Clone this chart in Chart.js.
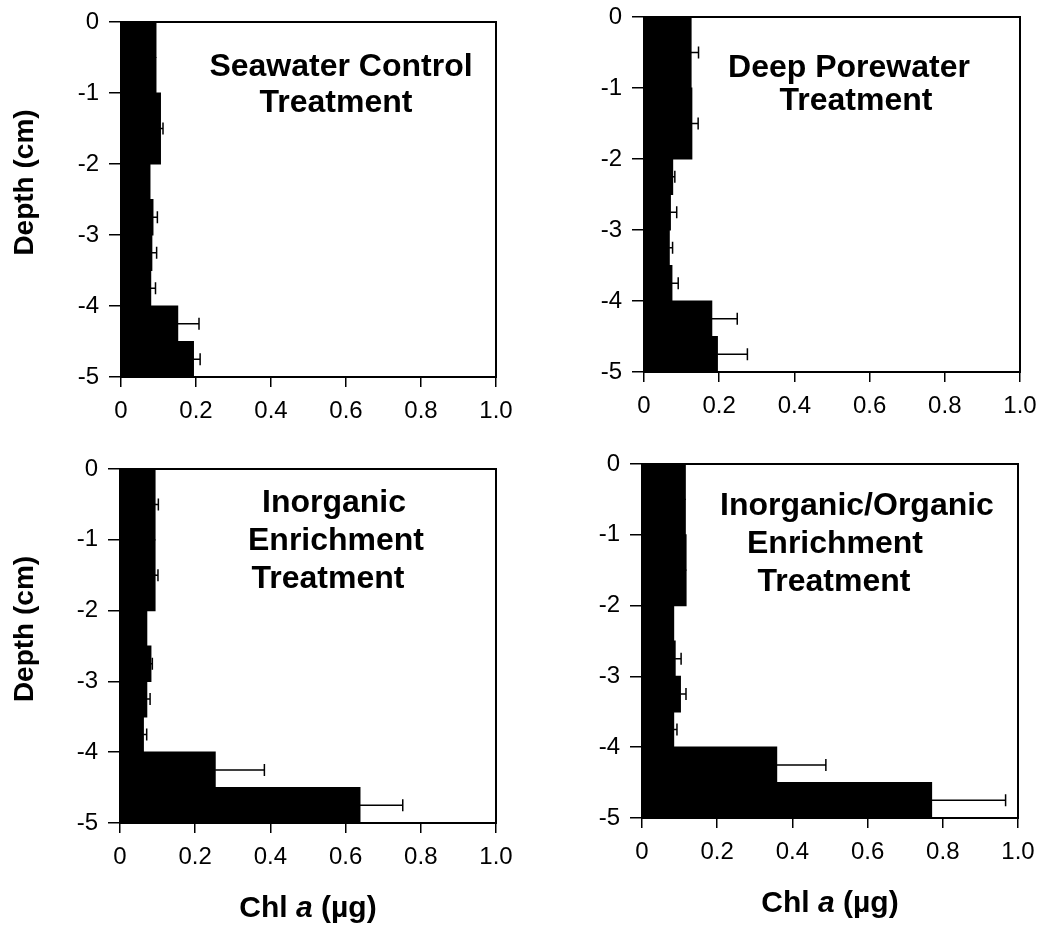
<!DOCTYPE html>
<html>
<head>
<meta charset="utf-8">
<script src="https://cdn.jsdelivr.net/npm/chart.js@4.4.1/dist/chart.umd.min.js"></script>
<style>
  body { margin: 0; background: #fff; overflow: hidden; }
  #wrap { position: relative; width: 1038px; height: 927px; }
  canvas { position: absolute; }
</style>
</head>
<body>
<div id="wrap">
  <canvas id="p1" width="520" height="430" style="left:0;top:0"></canvas>
  <canvas id="p2" width="518" height="430" style="left:520px;top:0"></canvas>
  <canvas id="p3" width="520" height="497" style="left:0;top:430px"></canvas>
  <canvas id="p4" width="518" height="497" style="left:520px;top:430px"></canvas>
</div>
<script>
// sediment layers (cm), top and bottom of each bar
const layerTop    = [0, -1, -2, -2.5, -3, -3.5, -4, -4.5];
const layerBottom = [-1, -2, -2.5, -3, -3.5, -4, -4.5, -5];
const depthTicks = [0, -1, -2, -3, -4, -5];
const chlTicks = ['0', '0.2', '0.4', '0.6', '0.8', '1.0'];

// Chl a (ug) per layer, and the error bar length
const seawaterChl = [0.093, 0.105, 0.077, 0.085, 0.082, 0.079, 0.151, 0.193];
const seawaterErr = [0, 0.007, 0, 0.012, 0.013, 0.013, 0.057, 0.018];
const porewaterChl = [0.125, 0.127, 0.076, 0.070, 0.067, 0.074, 0.180, 0.195];
const porewaterErr = [0.020, 0.017, 0.006, 0.017, 0.009, 0.017, 0.068, 0.080];
const inorganicChl = [0.093, 0.093, 0.071, 0.082, 0.071, 0.062, 0.253, 0.638];
const inorganicErr = [0.009, 0.008, 0, 0.004, 0.009, 0.009, 0.131, 0.114];
const inorgOrgChl = [0.115, 0.117, 0.084, 0.088, 0.102, 0.084, 0.358, 0.770];
const inorgOrgErr = [0, 0, 0, 0.016, 0.015, 0.009, 0.131, 0.197];

const FONT = '"Liberation Sans", Arial, Helvetica, sans-serif';
Chart.defaults.font.family = FONT;
Chart.defaults.color = '#000';

// page layout of each panel (plot area in page px)
const panels = [
  { id: 'p1', chl: seawaterChl, err: seawaterErr, left: 0, top: 0, w: 520, h: 430,
    plot: [121, 22, 496, 377], yTitle: true, xTitle: false,
    lines: [['Seawater Control', 220, 45.5], ['Treatment', 215, 81.5]] },
  { id: 'p2', chl: porewaterChl, err: porewaterErr, left: 520, top: 0, w: 518, h: 430,
    plot: [644, 17, 1020, 372], yTitle: false, xTitle: false,
    lines: [['Deep Porewater', 205, 51], ['Treatment', 212, 84]] },
  { id: 'p3', chl: inorganicChl, err: inorganicErr, left: 0, top: 430, w: 520, h: 497,
    plot: [120, 469, 496, 823], yTitle: true, xTitle: true,
    lines: [['Inorganic', 214, 34.5], ['Enrichment', 216, 72.5], ['Treatment', 208, 110.5]] },
  { id: 'p4', chl: inorgOrgChl, err: inorgOrgErr, left: 520, top: 430, w: 518, h: 497,
    plot: [642, 464, 1018, 818], yTitle: false, xTitle: true,
    lines: [['Inorganic/Organic', 215, 42], ['Enrichment', 193, 80], ['Treatment', 192, 118]] }
];

// split each layer into 0.5 cm slots so bars of different thickness share one scale
function buildBars(values) {
  const pts = [];
  values.forEach((v, i) => {
    for (let d = layerTop[i]; d > layerBottom[i] + 0.01; d -= 0.5) {
      pts.push({ x: v, y: d - 0.25 });
    }
  });
  return pts;
}

function decorPlugin(p) {
  return {
    id: 'decor',
    afterDatasetsDraw(chart) {
      const { ctx, chartArea: a } = chart;
      const xs = chart.scales.x, ys = chart.scales.y;
      ctx.save();
      ctx.strokeStyle = '#000';
      ctx.lineWidth = 1.5;
      p.chl.forEach((v, i) => {
        if (!p.err[i]) return;
        const yc = ys.getPixelForValue((layerTop[i] + layerBottom[i]) / 2);
        const x0 = xs.getPixelForValue(v);
        const x1 = xs.getPixelForValue(v + p.err[i]);
        ctx.beginPath();
        ctx.moveTo(x0, yc);
        ctx.lineTo(x1, yc);
        ctx.moveTo(x1, yc - 6);
        ctx.lineTo(x1, yc + 6);
        ctx.stroke();
      });
      ctx.lineWidth = 2;
      ctx.strokeRect(a.left, a.top, a.right - a.left, a.bottom - a.top);
      ctx.restore();
    },
    afterDraw(chart) {
      const { ctx, chartArea: a } = chart;
      ctx.save();
      ctx.fillStyle = '#000';
      ctx.textBaseline = 'middle';
      ctx.textAlign = 'center';
      ctx.font = 'bold 32px ' + FONT;
      p.lines.forEach(([txt, dx, dy]) => ctx.fillText(txt, a.left + dx, a.top + dy));

      if (p.yTitle) {
        ctx.save();
        ctx.translate(25, (a.top + a.bottom) / 2 - 17);
        ctx.rotate(-Math.PI / 2);
        ctx.font = 'bold 28px ' + FONT;
        ctx.fillText('Depth (cm)', 0, 0);
        ctx.restore();
      }
      if (p.xTitle) {
        const parts = [['Chl ', 'bold'], ['a', 'italic bold'], [' (\u00b5g)', 'bold']];
        let total = 0;
        parts.forEach(pt => { ctx.font = pt[1] + ' 30px ' + FONT; total += ctx.measureText(pt[0]).width; });
        let x = (a.left + a.right) / 2 - total / 2;
        const y = a.bottom + 86;
        ctx.textAlign = 'left';
        parts.forEach(pt => {
          ctx.font = pt[1] + ' 30px ' + FONT;
          ctx.fillText(pt[0], x, y);
          x += ctx.measureText(pt[0]).width;
        });
      }
      ctx.restore();
    }
  };
}

function renderPanel(p) {
  const [pl, pt, pr, pb] = p.plot;
  const yAxisW = pl - p.left;
  const xAxisH = p.top + p.h - pb;
  new Chart(document.getElementById(p.id), {
    type: 'bar',
    data: {
      datasets: [{
        data: buildBars(p.chl),
        backgroundColor: '#000',
        borderWidth: 0,
        barPercentage: 1,
        categoryPercentage: 1,
        inflateAmount: 0.6
      }]
    },
    options: {
      indexAxis: 'y',
      responsive: false,
      animation: false,
      layout: { padding: { left: 0, top: pt - p.top, right: p.left + p.w - pr, bottom: 0 } },
      plugins: { legend: { display: false }, tooltip: { enabled: false } },
      scales: {
        y: {
          type: 'linear',
          min: -5, max: 0,
          offset: false,
          afterBuildTicks: s => { s.ticks = depthTicks.map(v => ({ value: v })); },
          afterFit: s => { s.width = yAxisW; s.paddingTop = 0; s.paddingBottom = 0; },
          ticks: { font: { size: 24 }, padding: 10, callback: v => String(v) },
          grid: { offset: false, drawOnChartArea: false, tickLength: 12, color: '#000', lineWidth: 1.5 },
          border: { color: '#000', width: 2 }
        },
        x: {
          type: 'linear',
          min: 0, max: 1,
          afterBuildTicks: s => { s.ticks = chlTicks.map(t => ({ value: parseFloat(t) })); },
          afterFit: s => { s.height = xAxisH; s.paddingLeft = 0; s.paddingRight = 0; },
          ticks: { font: { size: 24 }, padding: 10, maxRotation: 0, callback: (v, i) => chlTicks[i] },
          grid: { drawOnChartArea: false, tickLength: 10, color: '#000', lineWidth: 1.5 },
          border: { color: '#000', width: 2 }
        }
      }
    },
    plugins: [decorPlugin(p)]
  });
}

panels.forEach(renderPanel);
</script>
</body>
</html>
